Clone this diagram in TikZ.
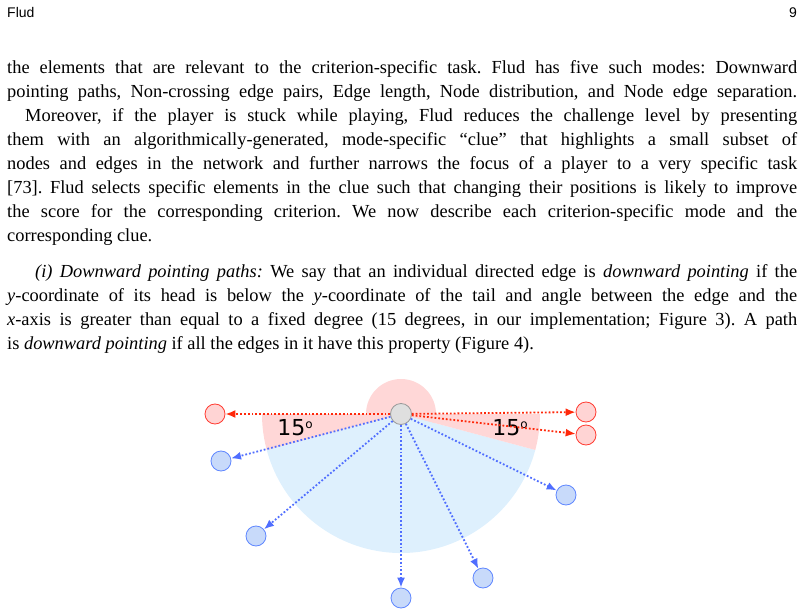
\documentclass[tikz,border=0pt]{standalone}
\usepackage{fontspec}
\setmainfont{Liberation Serif}
\newfontfamily\hdr{Liberation Sans}
\newfontfamily\lbl{DejaVu Sans}
\usetikzlibrary{arrows.meta}
\definecolor{pinkf}{RGB}{255,215,215}
\definecolor{bluef}{RGB}{222,240,253}
\definecolor{redn}{RGB}{255,60,50}
\definecolor{rednf}{RGB}{255,212,212}
\definecolor{redE}{RGB}{255,40,10}
\definecolor{bluen}{RGB}{95,135,255}
\definecolor{bluenf}{RGB}{200,218,250}
\definecolor{blueE}{RGB}{80,110,255}
\frenchspacing
\newcommand\jl[1]{\hbox to 790pt{\spaceskip=.25em plus 2em minus .12em\relax #1}}
\tikzset{
  txt/.style={anchor=base west,inner sep=0pt,font=\fontsize{18.4}{22}\selectfont},
  rn/.style={circle,draw=redn,fill=rednf,minimum size=20pt,inner sep=0pt,line width=0.8pt},
  bn/.style={circle,draw=bluen,fill=bluenf,minimum size=20pt,inner sep=0pt,line width=0.8pt},
  gn/.style={circle,draw=gray!80,fill=gray!25,minimum size=21pt,inner sep=0pt,line width=0.8pt},
  re/.style={draw=redE,line width=1.8pt,dotted,-{Latex[length=10pt,width=8pt]}},
  be/.style={draw=blueE,line width=1.8pt,dotted,-{Latex[length=10pt,width=8pt]}},
  deg/.style={font=\lbl\fontsize{22}{24}\selectfont,inner sep=0pt},
}
\newcommand\degsym{\raisebox{7pt}{\fontsize{12}{12}\selectfont o}}
\begin{document}
\begin{tikzpicture}[x=1pt,y=-1pt]
\useasboundingbox (0,0) rectangle (804,615);
\node[anchor=base west,inner sep=0pt,font=\hdr\fontsize{14}{16}\selectfont] (h1) at (7,18) {Flud};
\node[anchor=base east,inner sep=0pt,font=\hdr\fontsize{14}{16}\selectfont] (h2) at (797,18) {9};
\node[txt] (l1) at (7,74) {\jl{the elements that are relevant to the criterion-specific task. Flud has five such modes: Downward}};
\node[txt] (l2) at (7,98) {\jl{pointing paths, Non-crossing edge pairs, Edge length, Node distribution, and Node edge separation.}};
\node[txt] (l3) at (7,122) {\jl{\hspace{18pt}Moreover, if the player is stuck while playing, Flud reduces the challenge level by presenting}};
\node[txt] (l4) at (7,146) {\jl{them with an algorithmically-generated, mode-specific “clue” that highlights a small subset of}};
\node[txt] (l5) at (7,170) {\jl{nodes and edges in the network and further narrows the focus of a player to a very specific task}};
\node[txt] (l6) at (7,194) {\jl{[73]. Flud selects specific elements in the clue such that changing their positions is likely to improve}};
\node[txt] (l7) at (7,218) {\jl{the score for the corresponding criterion. We now describe each criterion-specific mode and the}};
\node[txt] (l8) at (7,242) {corresponding clue.};
\node[txt] (l9) at (7,277) {\jl{\hspace{28pt}\textit{(i) Downward pointing paths:} We say that an individual directed edge is \textit{downward pointing} if the}};
\node[txt] (l10) at (7,301) {\jl{\textit{y}-coordinate of its head is below the \textit{y}-coordinate of the tail and angle between the edge and the}};
\node[txt] (l11) at (7,325) {\jl{\textit{x}-axis is greater than equal to a fixed degree (15 degrees, in our implementation; Figure 3). A path}};
\node[txt] (l12) at (7,349) {is \textit{downward pointing} if all the edges in it have this property (Figure 4).};
% figure
\coordinate (o) at (401,414);
\fill[pinkf] (o) circle (35);
\fill[bluef] (o) -- ++(15:139) arc (15:165:139) -- cycle;
\fill[pinkf] (o) -- ++(0:139) arc (0:15:139) -- cycle;
\fill[pinkf] (o) -- ++(165:139) arc (165:180:139) -- cycle;
\node[deg] (a1) at (295,428) {15\degsym};
\node[deg] (a2) at (510,428) {15\degsym};
\node[rn] (r1) at (215,414) {};
\node[rn] (r2) at (586,412) {};
\node[rn] (r3) at (586,435) {};
\node[bn] (b1) at (221,461) {};
\node[bn] (b2) at (256,536) {};
\node[bn] (b3) at (401,598) {};
\node[bn] (b4) at (483,578) {};
\node[bn] (b5) at (566,495) {};
\node[gn] (c) at (o) {};
\foreach \t in {r1,r2,r3} \draw[re] (c) -- (\t);
\foreach \t in {b1,b2,b3,b4,b5} \draw[be] (c) -- (\t);
\end{tikzpicture}
\end{document}
